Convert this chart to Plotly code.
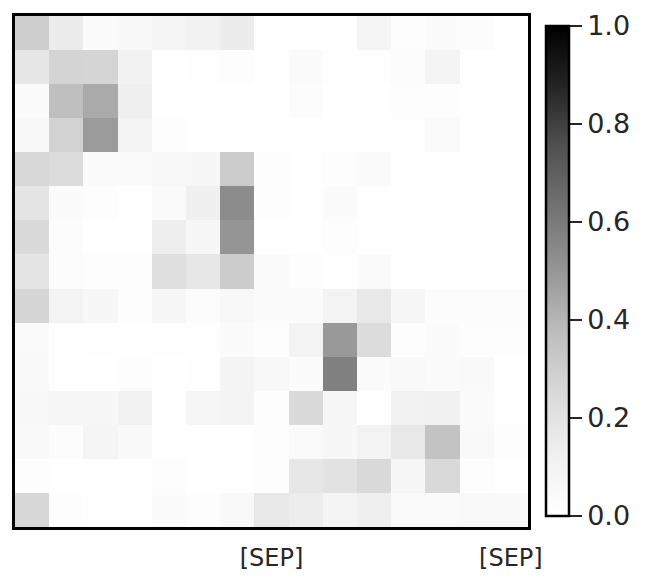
import plotly.graph_objects as go

# attention weights, one list per row (top to bottom)
row_00 = [0.295, 0.147, 0.033, 0.058, 0.083, 0.108, 0.147, 0.008, 0.0, 0.0, 0.083, 0.017, 0.033, 0.025, 0.0]
row_01 = [0.179, 0.272, 0.268, 0.108, 0.0, 0.008, 0.017, 0.0, 0.033, 0.008, 0.008, 0.025, 0.092, 0.0, 0.0]
row_02 = [0.033, 0.366, 0.436, 0.130, 0.0, 0.0, 0.0, 0.0, 0.025, 0.0, 0.0, 0.017, 0.017, 0.0, 0.0]
row_03 = [0.058, 0.281, 0.484, 0.092, 0.017, 0.008, 0.0, 0.0, 0.0, 0.0, 0.008, 0.008, 0.042, 0.0, 0.0]
row_04 = [0.254, 0.234, 0.033, 0.042, 0.058, 0.067, 0.313, 0.017, 0.0, 0.017, 0.033, 0.0, 0.0, 0.0, 0.0]
row_05 = [0.185, 0.033, 0.017, 0.0, 0.042, 0.125, 0.536, 0.017, 0.0, 0.033, 0.008, 0.0, 0.008, 0.0, 0.0]
row_06 = [0.245, 0.025, 0.0, 0.0, 0.136, 0.067, 0.504, 0.0, 0.0, 0.017, 0.0, 0.0, 0.0, 0.0, 0.0]
row_07 = [0.185, 0.025, 0.017, 0.017, 0.217, 0.174, 0.308, 0.033, 0.017, 0.008, 0.033, 0.0, 0.0, 0.0, 0.0]
row_08 = [0.263, 0.100, 0.067, 0.017, 0.075, 0.025, 0.058, 0.033, 0.033, 0.100, 0.168, 0.075, 0.025, 0.025, 0.025]
row_09 = [0.042, 0.008, 0.008, 0.008, 0.008, 0.008, 0.033, 0.017, 0.100, 0.490, 0.234, 0.017, 0.033, 0.017, 0.017]
row_10 = [0.050, 0.008, 0.0, 0.017, 0.0, 0.008, 0.092, 0.058, 0.033, 0.579, 0.033, 0.050, 0.033, 0.050, 0.0]
row_11 = [0.058, 0.067, 0.067, 0.108, 0.008, 0.075, 0.092, 0.017, 0.245, 0.075, 0.008, 0.108, 0.117, 0.033, 0.0]
row_12 = [0.050, 0.025, 0.083, 0.050, 0.008, 0.008, 0.008, 0.017, 0.042, 0.067, 0.100, 0.168, 0.348, 0.050, 0.017]
row_13 = [0.017, 0.0, 0.0, 0.0, 0.017, 0.0, 0.008, 0.017, 0.174, 0.201, 0.250, 0.075, 0.250, 0.017, 0.0]
row_14 = [0.259, 0.017, 0.0, 0.0, 0.033, 0.017, 0.050, 0.168, 0.141, 0.092, 0.130, 0.042, 0.042, 0.050, 0.050]

x_tick_positions = [7, 14]
x_tick_labels = ["[SEP]", "[SEP]"]
cbar_ticks = [0.0, 0.2, 0.4, 0.6, 0.8, 1.0]

z = [row_00, row_01, row_02, row_03, row_04, row_05, row_06, row_07,
     row_08, row_09, row_10, row_11, row_12, row_13, row_14]

greys = [[0.0, "#ffffff"], [0.125, "#f0f0f0"], [0.25, "#d9d9d9"], [0.375, "#bdbdbd"],
         [0.5, "#969696"], [0.625, "#737373"], [0.75, "#525252"], [0.875, "#252525"],
         [1.0, "#000000"]]

# page has an 8px body margin, so the figure is sized to fit inside it
W, H = 642, 579
L, R, T, B = 7, 122, 8, 60
pw, ph = W - L - R, H - T - B

fig = go.Figure(go.Heatmap(
    z=z,
    colorscale=greys,
    zmin=0, zmax=1,
    colorbar=dict(
        thickness=23,
        lenmode="fraction", len=490 / ph,
        x=(538 - L) / pw, xanchor="left", xpad=0,
        y=(H - B - 263) / ph, yanchor="middle", ypad=0,
        outlinewidth=2.5, outlinecolor="black",
        ticks="outside", ticklen=12, tickwidth=2, tickcolor="#262626",
        tickvals=cbar_ticks, ticktext=[f"{v:.1f}" for v in cbar_ticks],
        tickfont=dict(family="DejaVu Sans", size=27, color="#262626"),
    ),
))

fig.update_layout(
    width=W, height=H,
    margin=dict(l=L, r=R, t=T, b=B, autoexpand=False),
    paper_bgcolor="white", plot_bgcolor="white",
    font=dict(family="DejaVu Sans", color="#262626"),
)
fig.update_xaxes(
    range=[-0.5, 14.5],
    tickvals=x_tick_positions, ticktext=x_tick_labels,
    tickfont=dict(family="DejaVu Sans", size=24, color="#262626"),
    ticklabelstandoff=7,
    ticks="", showgrid=False, zeroline=False, automargin=False,
    showline=True, linecolor="black", linewidth=2.5, mirror=True,
)
fig.update_yaxes(
    range=[14.5, -0.5],
    showticklabels=False, ticks="", showgrid=False, zeroline=False, automargin=False,
    showline=True, linecolor="black", linewidth=2.5, mirror=True,
)

fig.write_html("out.html")
